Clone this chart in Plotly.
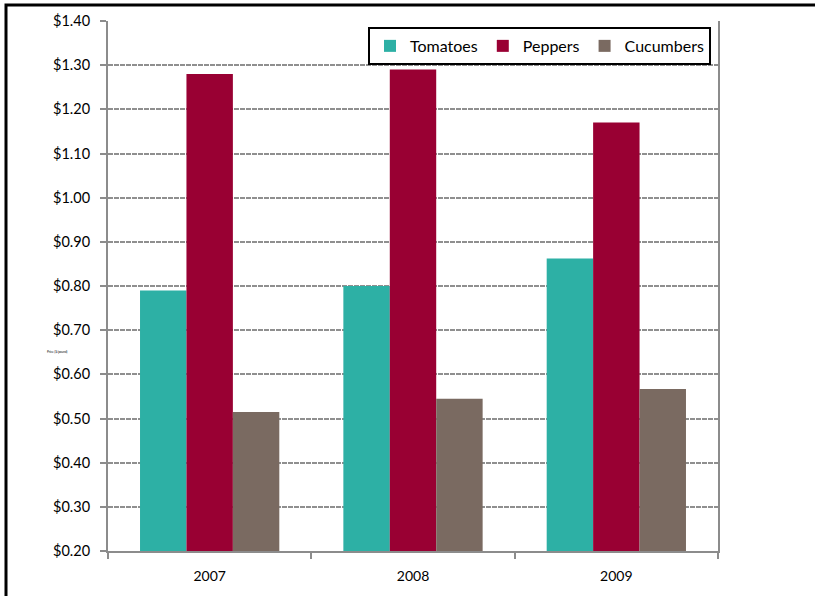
import plotly.graph_objects as go

years = ["2007", "2008", "2009"]
tomatoes = [0.79, 0.80, 0.862]
peppers = [1.28, 1.29, 1.17]
cucumbers = [0.515, 0.545, 0.567]
tick_vals = [0.2, 0.3, 0.4, 0.5, 0.6, 0.7, 0.8, 0.9, 1.0, 1.1, 1.2, 1.3, 1.4]
tick_text = ["$%.2f" % v for v in tick_vals]

W, H = 815, 596
L, R, T, B = 108, 97, 20, 43
pw, ph = W - L - R, H - T - B

fig = go.Figure()
fig.add_bar(x=years, y=tomatoes, name="Tomatoes", marker=dict(color="#2DB0A5", line=dict(width=0)))
fig.add_bar(x=years, y=peppers, name="Peppers", marker=dict(color="#990033", line=dict(width=0)))
fig.add_bar(x=years, y=cucumbers, name="Cucumbers", marker=dict(color="#7A6A61", line=dict(width=0)))

def px_x(p):
    return (p - L) / pw

def px_y(p):
    return (H - B - p) / ph

fig.update_layout(
    width=W, height=H,
    margin=dict(l=L, r=R, t=T, b=B),
    paper_bgcolor="white", plot_bgcolor="white",
    barmode="group", bargap=0.315, bargroupgap=0,
    font=dict(family="Lato, Carlito, Liberation Sans, sans-serif", color="black", size=14),
    showlegend=True,
    legend=dict(
        orientation="h", x=px_x(711), y=px_y(26), xanchor="right", yanchor="top",
        bordercolor="black", borderwidth=2, bgcolor="white",
        font=dict(size=16), itemsizing="constant", traceorder="normal",
        itemwidth=30, tracegroupgap=0,
    ),
    xaxis=dict(
        showline=True, linecolor="#8c8c8c", linewidth=2,
        ticks="outside", tickson="boundaries", ticklen=6, tickcolor="#8c8c8c", tickwidth=2,
        showgrid=False, tickfont=dict(size=14), ticklabelstandoff=11,
    ),
    yaxis=dict(
        range=[0.2, 1.4], tickvals=tick_vals, ticktext=tick_text,
        showline=True, linecolor="#8c8c8c", linewidth=2, mirror=True,
        ticks="outside", ticklen=6, tickcolor="#8c8c8c", tickwidth=2,
        showgrid=True, gridcolor="#8f8f8f", gridwidth=1.6, griddash="5px,1px",
        tickfont=dict(size=14.5), zeroline=False, ticklabelstandoff=7,
    ),
    shapes=[dict(
        type="rect", xref="paper", yref="paper",
        x0=px_x(6), x1=px_x(817), y0=px_y(4), y1=px_y(610),
        line=dict(color="black", width=3), layer="above",
    )],
    annotations=[dict(
        text="Price ($/pound)", xref="paper", yref="paper",
        x=px_x(45), y=px_y(352), showarrow=False, font=dict(size=3),
    )],
)

fig.write_html("out.html")
